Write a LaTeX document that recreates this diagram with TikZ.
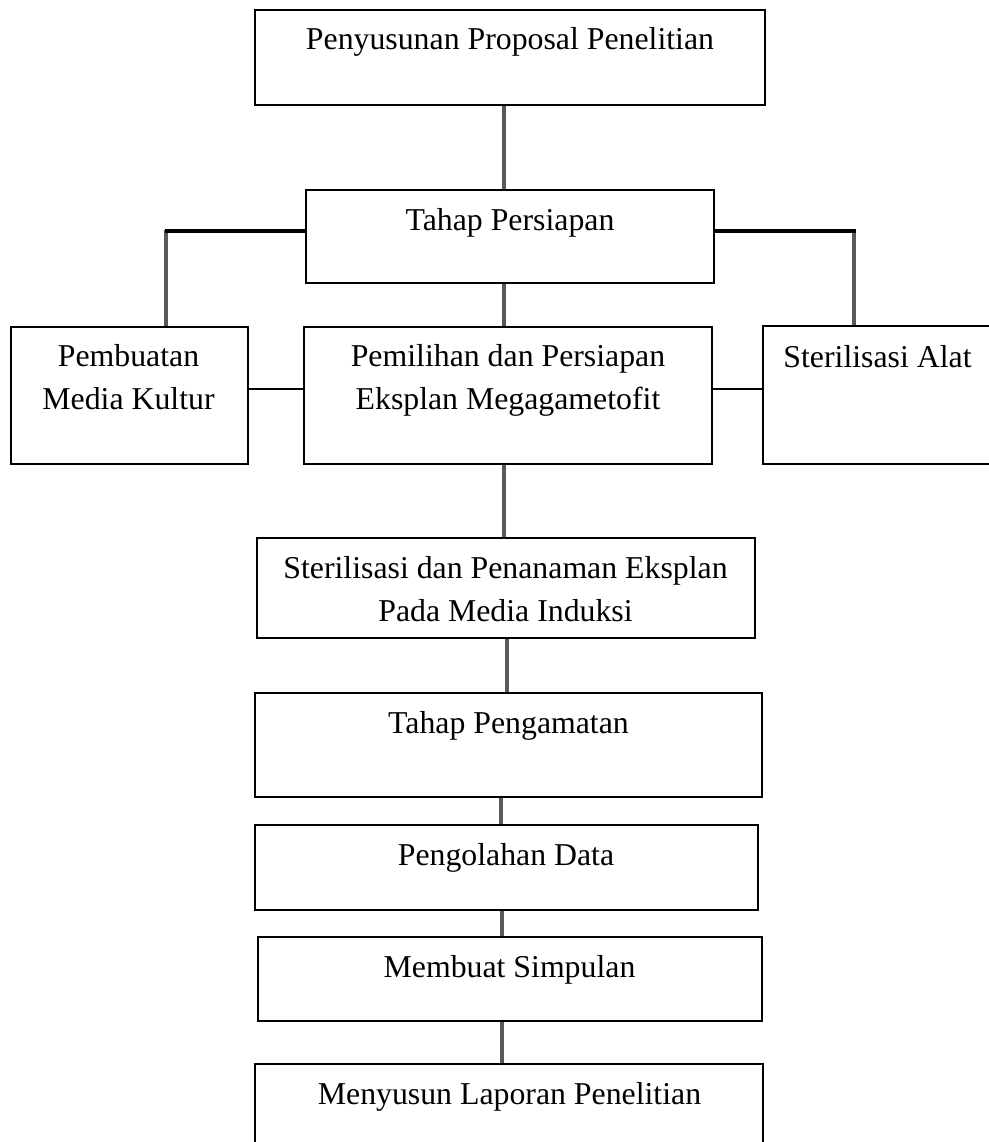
\documentclass[tikz,border=0pt]{standalone}
\usepackage{fontspec}
\setmainfont{Liberation Serif}
\definecolor{conn}{RGB}{89,89,89}
\begin{document}
\begin{tikzpicture}[x=1pt,y=-1pt,
  box/.style={draw=black, line width=1.6pt, rectangle, inner sep=0pt},
  lbl/.style={font=\fontsize{31.8}{43}\selectfont, align=center, anchor=base, inner sep=0pt},
  gline/.style={draw=conn, line width=4.2pt},
  bline/.style={draw=black, line width=3.2pt},
  tline/.style={draw=black, line width=1.8pt}]
\useasboundingbox (0,0) rectangle (988,1142);
% boxes
\node[box, minimum width=510pt, minimum height=95pt] (b1) at (510,57.5) {};
\node[box, minimum width=408pt, minimum height=93pt] (b2) at (510,236.5) {};
\node[box, minimum width=237pt, minimum height=137pt] (b3) at (129.5,395.5) {};
\node[box, minimum width=408pt, minimum height=137pt] (b4) at (508,395.5) {};
\node[box, minimum width=237pt, minimum height=138pt] (b5) at (881.5,395) {};
\node[box, minimum width=498pt, minimum height=100pt] (b6) at (506,588) {};
\node[box, minimum width=507pt, minimum height=104pt] (b7) at (508.5,745) {};
\node[box, minimum width=503pt, minimum height=85pt] (b8) at (506.5,867.5) {};
\node[box, minimum width=504pt, minimum height=84pt] (b9) at (510,979) {};
\node[box, minimum width=508pt, minimum height=86pt] (b10) at (509,1107) {};
% labels (base anchor = baseline of the last line)
\node[lbl] (t1) at (510,50) {Penyusunan Proposal Penelitian};
\node[lbl] (t2) at (510,230) {Tahap Persiapan};
\node[lbl] (t3) at (128.5,409) {Pembuatan\\Media Kultur};
\node[lbl] (t4) at (508,409) {Pemilihan dan Persiapan\\Eksplan Megagametofit};
\node[lbl] (t5) at (877.5,367) {Sterilisasi Alat};
\node[lbl] (t6) at (505.5,621) {Sterilisasi dan Penanaman Eksplan\\Pada Media Induksi};
\node[lbl] (t7) at (508.5,733) {Tahap Pengamatan};
\node[lbl] (t8) at (506,865) {Pengolahan Data};
\node[lbl] (t9) at (509.5,977) {Membuat Simpulan};
\node[lbl] (t10) at (509.5,1104) {Menyusun Laporan Penelitian};
% connectors
\coordinate (lc) at (166,231);
\coordinate (rc) at (854,231);
\draw[gline] ([xshift=-6pt]b1.south) -- ([xshift=-6pt]b1.south |- b2.north);
\draw[gline] ([yshift=1.5pt]lc) -- (lc |- b3.north);
\draw[bline] (lc -| b2.west) -- ([xshift=-1.5pt]lc);
\draw[gline] ([yshift=1.5pt]rc) -- (rc |- b5.north);
\draw[bline] (rc -| b2.east) -- ([xshift=1.5pt]rc);
\draw[gline] ([xshift=-6pt]b2.south) -- ([xshift=-6pt]b2.south |- b4.north);
\draw[tline] ([yshift=6.5pt]b3.east) -- ([yshift=6.5pt]b3.east -| b4.west);
\draw[tline] ([yshift=6.5pt]b4.east) -- ([yshift=6.5pt]b4.east -| b5.west);
\draw[gline] ([xshift=-4pt]b4.south) -- ([xshift=-4pt]b4.south |- b6.north);
\draw[gline] ([xshift=1pt]b6.south) -- ([xshift=1pt]b6.south |- b7.north);
\draw[gline] ([xshift=-7.5pt]b7.south) -- ([xshift=-7.5pt]b7.south |- b8.north);
\draw[gline] ([xshift=-4.5pt]b8.south) -- ([xshift=-4.5pt]b8.south |- b9.north);
\draw[gline] ([xshift=-8pt]b9.south) -- ([xshift=-8pt]b9.south |- b10.north);
\end{tikzpicture}
\end{document}
